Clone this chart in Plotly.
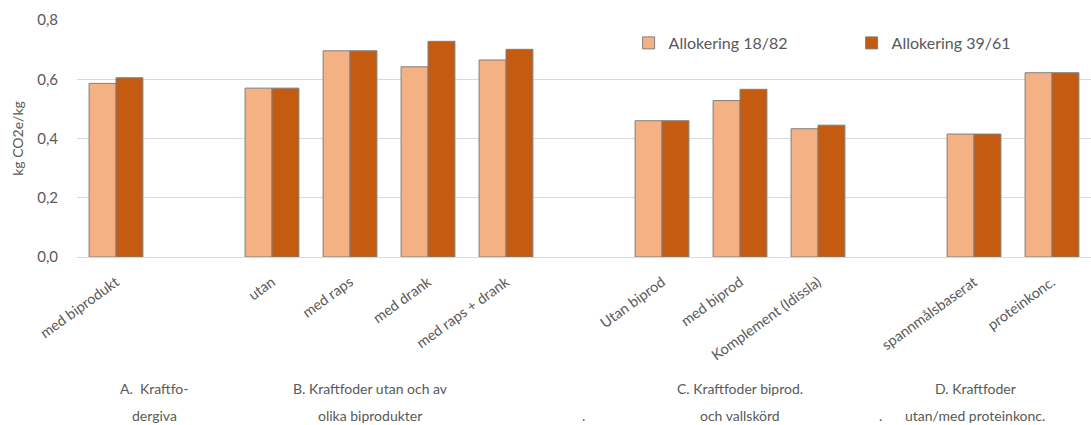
import plotly.graph_objects as go

# Feed categories, grouped; an empty slot separates consecutive groups on the axis
groups = [
    ["med biprodukt"],
    ["utan", "med raps", "med drank", "med raps + drank"],
    ["Utan biprod", "med biprod", "Komplement (Idissla)"],
    ["spannmålsbaserat", "proteinkonc."],
]

# Emissions, kg CO2e per kg feed, for the two allocation keys
alloc_18_82 = [0.586, 0.570, 0.696, 0.642, 0.665, 0.460, 0.528, 0.433, 0.415, 0.622]
alloc_39_61 = [0.605, 0.570, 0.696, 0.728, 0.701, 0.460, 0.566, 0.445, 0.415, 0.622]

series_names = ["Allokering 18/82", "Allokering 39/61"]

group_titles = [
    ("A.  Kraftfo-", "dergiva"),
    ("B. Kraftfoder utan och av", "olika biprodukter"),
    ("C. Kraftfoder biprod.", "och vallskörd"),
    ("D. Kraftfoder", "utan/med proteinkonc."),
]

# Slot positions along the x axis (one blank slot between groups)
labels, positions = [], []
slot = 0
for g in groups:
    for name in g:
        labels.append(name)
        positions.append(slot)
        slot += 1
    slot += 1
last_slot = positions[-1]

FONT = "Lato, 'Open Sans', sans-serif"
TXT = "#595959"
EDGE = "#7F7F7F"

fig = go.Figure()
fig.add_trace(go.Bar(
    x=positions, y=alloc_18_82, name=series_names[0],
    marker=dict(color="#F4B183", line=dict(color=EDGE, width=1)),
))
fig.add_trace(go.Bar(
    x=positions, y=alloc_39_61, name=series_names[1],
    marker=dict(color="#C55A11", line=dict(color=EDGE, width=1)),
))

# Two-line group captions below the rotated tick labels
PLOT_L, PLOT_W = 77, 1014
caption_x = [154, 370, 740, 975]
cap_font = dict(size=14, color=TXT, family=FONT)
for (l1, l2), px in zip(group_titles, caption_x):
    fx = (px - PLOT_L) / PLOT_W
    fig.add_annotation(text=l1, x=fx, y=-0.553, xref="paper", yref="paper",
                       xanchor="center", yanchor="middle", showarrow=False, font=cap_font)
    fig.add_annotation(text=l2, x=fx, y=-0.667, xref="paper", yref="paper",
                       xanchor="center", yanchor="middle", showarrow=False, font=cap_font)
for px in [583, 880]:
    fig.add_annotation(text=".", x=(px - PLOT_L) / PLOT_W, y=-0.667, xref="paper", yref="paper",
                       xanchor="center", yanchor="middle", showarrow=False, font=cap_font)

fig.update_layout(
    width=1091, height=425,
    margin=dict(l=77, r=0, t=20, b=168, autoexpand=False),
    plot_bgcolor="white", paper_bgcolor="white",
    barmode="group", bargap=0.31, bargroupgap=0,
    separators=",.",
    font=dict(family=FONT, color=TXT),
    legend=dict(orientation="h", x=0.544, y=0.903, xanchor="left", yanchor="middle",
                font=dict(size=16, color=TXT, family=FONT),
                entrywidth=178, entrywidthmode="pixels",
                itemwidth=30, bgcolor="rgba(0,0,0,0)"),
    xaxis=dict(
        range=[-0.5, last_slot + 0.5],
        tickmode="array", tickvals=positions, ticktext=labels,
        tickangle=-36, tickfont=dict(size=14.5, color=TXT, family=FONT),
        ticklabelstandoff=13,
        showgrid=False, zeroline=False, showline=False, ticks="",
    ),
    yaxis=dict(
        range=[0, 0.8], dtick=0.2, tickformat=".1f",
        showgrid=True, gridcolor="#D9D9D9", gridwidth=1,
        zeroline=True, zerolinecolor="#D9D9D9", zerolinewidth=1,
        showline=False, ticks="", ticklen=0,
        ticklabelstandoff=18,
        tickfont=dict(size=15, color=TXT, family=FONT),
        title=dict(text="kg CO2e/kg", font=dict(size=14, color=TXT, family=FONT), standoff=10),
    ),
)

fig.write_html("out.html")
